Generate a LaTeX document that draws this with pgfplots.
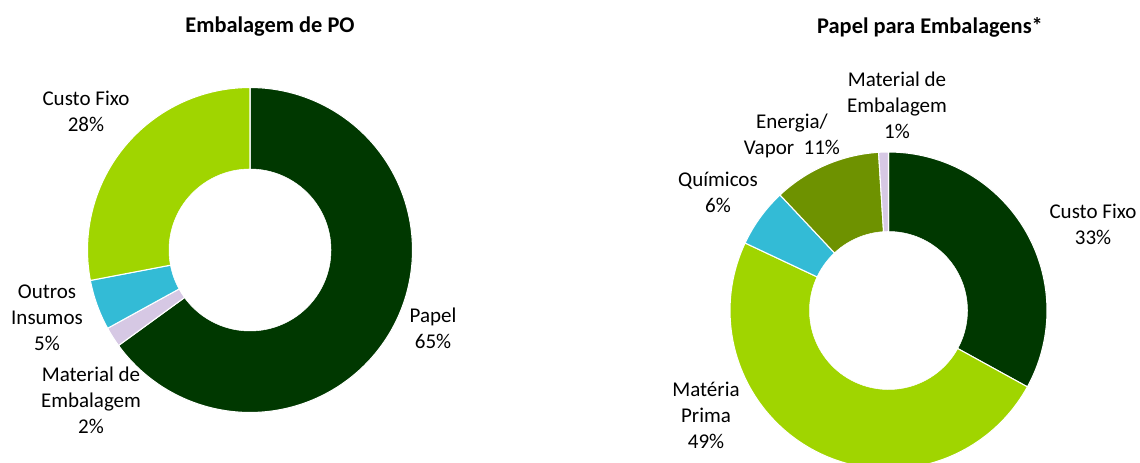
\documentclass[border=0pt]{standalone}
\usepackage{pgfplots}
\pgfplotsset{compat=1.18}
\usepackage{fontspec}
\setmainfont{Carlito}
\definecolor{dkgreen}{HTML}{003800}
\definecolor{ltgreen}{HTML}{A0D500}
\definecolor{cyanc}{HTML}{33BBD6}
\definecolor{lav}{HTML}{D6C8E4}
\definecolor{olive}{HTML}{6E9200}
\tikzset{lbl/.style={font=\fontsize{15.75}{19.5}\selectfont, align=center, inner sep=0pt},
         ttl/.style={font=\bfseries\fontsize{16.8}{20}\selectfont, inner sep=0pt}}
% slice percentages (cumulative start:end, clockwise from 12 o'clock)
% Embalagem de PO: Papel 65, Material de Embalagem 2, Outros Insumos 5, Custo Fixo 28
% Papel para Embalagens: Custo Fixo 33, Materia Prima 49, Quimicos 6, Energia/Vapor 11, Material de Embalagem 1
\begin{document}
\begin{tikzpicture}
\path[use as bounding box] (0,0) rectangle (855pt,347.25pt);
\begin{axis}[
  at={(0,0)}, anchor=south west,
  width=855pt, height=347.25pt, scale only axis,
  xmin=0, xmax=1140, ymin=0, ymax=463,
  hide axis, clip=true,
]
% ---------- Left donut: centre (250,213), R=162.5, r=81
\addplot[fill=dkgreen, draw=white, line width=0.8pt, domain=0:65, samples=120, variable=\t]
  ({250+162.5*cos(90-3.6*\t)},{213+162.5*sin(90-3.6*\t)}) -- (axis cs:250,213) -- cycle;
\addplot[fill=lav, draw=white, line width=0.8pt, domain=65:67, samples=10, variable=\t]
  ({250+162.5*cos(90-3.6*\t)},{213+162.5*sin(90-3.6*\t)}) -- (axis cs:250,213) -- cycle;
\addplot[fill=cyanc, draw=white, line width=0.8pt, domain=67:72, samples=20, variable=\t]
  ({250+162.5*cos(90-3.6*\t)},{213+162.5*sin(90-3.6*\t)}) -- (axis cs:250,213) -- cycle;
\addplot[fill=ltgreen, draw=white, line width=0.8pt, domain=72:100, samples=60, variable=\t]
  ({250+162.5*cos(90-3.6*\t)},{213+162.5*sin(90-3.6*\t)}) -- (axis cs:250,213) -- cycle;
\addplot[fill=white, draw=white, domain=0:360, samples=120]
  ({250+81*cos(x)},{213+81*sin(x)}) -- cycle;
% ---------- Right donut: centre (888.5,152.5), R=158.5, r=79
\addplot[fill=dkgreen, draw=white, line width=0.8pt, domain=0:33, samples=70, variable=\t]
  ({888.5+158.5*cos(90-3.6*\t)},{152.5+158.5*sin(90-3.6*\t)}) -- (axis cs:888.5,152.5) -- cycle;
\addplot[fill=ltgreen, draw=white, line width=0.8pt, domain=33:82, samples=100, variable=\t]
  ({888.5+158.5*cos(90-3.6*\t)},{152.5+158.5*sin(90-3.6*\t)}) -- (axis cs:888.5,152.5) -- cycle;
\addplot[fill=cyanc, draw=white, line width=0.8pt, domain=82:88, samples=20, variable=\t]
  ({888.5+158.5*cos(90-3.6*\t)},{152.5+158.5*sin(90-3.6*\t)}) -- (axis cs:888.5,152.5) -- cycle;
\addplot[fill=olive, draw=white, line width=0.8pt, domain=88:99, samples=30, variable=\t]
  ({888.5+158.5*cos(90-3.6*\t)},{152.5+158.5*sin(90-3.6*\t)}) -- (axis cs:888.5,152.5) -- cycle;
\addplot[fill=lav, draw=white, line width=0.8pt, domain=99:100, samples=6, variable=\t]
  ({888.5+158.5*cos(90-3.6*\t)},{152.5+158.5*sin(90-3.6*\t)}) -- (axis cs:888.5,152.5) -- cycle;
\addplot[fill=white, draw=white, domain=0:360, samples=120]
  ({888.5+79*cos(x)},{152.5+79*sin(x)}) -- cycle;
% ---------- Titles
\node[ttl] at (axis cs:270,436) {Embalagem de PO};
\node[ttl] at (axis cs:930,436) {Papel para Embalagens*};
% ---------- Left labels
\node[lbl] at (axis cs:86,351.5) {Custo Fixo\\28\%};
\node[lbl] at (axis cs:47,145) {Outros\\Insumos\\5\%};
\node[lbl] at (axis cs:433,134.5) {Papel\\65\%};
\node[lbl] at (axis cs:91,63) {Material de\\Embalagem\\2\%};
% ---------- Right labels
\node[lbl] at (axis cs:897,358) {Material de\\Embalagem\\1\%};
\node[lbl] at (axis cs:792,327) {Energia/\\Vapor\ \ 11\%};
\node[lbl] at (axis cs:718,270.5) {Químicos\\6\%};
\node[lbl] at (axis cs:1093,239) {Custo Fixo\\33\%};
\node[lbl] at (axis cs:706,48) {Matéria\\Prima\\49\%};
\end{axis}
\end{tikzpicture}
\end{document}
